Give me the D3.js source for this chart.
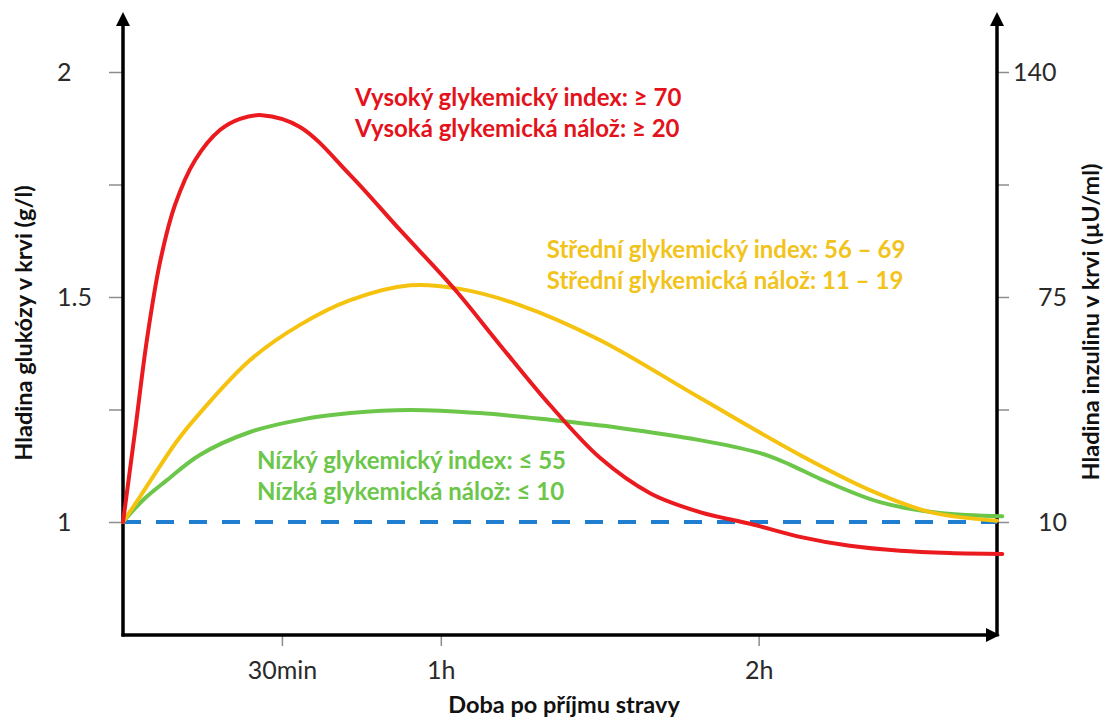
<!DOCTYPE html>
<html>
<head>
<meta charset="utf-8">
<script src="https://cdn.jsdelivr.net/npm/d3@7"></script>
<style>
  body { margin: 0; background: #fff; }
  text { font-family: Lato, "Open Sans", sans-serif; }
</style>
</head>
<body>
<div id="chart"></div>
<script>
// time after meal (minutes) and blood glucose (g/l)
const redTime   = [0, 2.3, 4.5, 7.0, 9.8, 13.6, 18.3, 22.1, 26.2, 33.4, 42.9, 52.3, 62.7, 71.2, 80.6, 90.1, 99.5, 108.9, 118.4, 127.8, 137.2, 146.7, 156.1, 166];
const redValue  = [1.0, 1.204, 1.404, 1.578, 1.704, 1.804, 1.871, 1.896, 1.904, 1.878, 1.771, 1.649, 1.516, 1.393, 1.26, 1.142, 1.064, 1.022, 0.996, 0.967, 0.947, 0.936, 0.931, 0.929];

const yellowTime  = [0, 3.2, 10.2, 14.5, 24.0, 33.4, 42.9, 54.2, 63.6, 74.9, 90.1, 108.9, 127.8, 141.0, 152.4, 165];
const yellowValue = [1.0, 1.056, 1.18, 1.242, 1.36, 1.438, 1.493, 1.526, 1.518, 1.482, 1.404, 1.276, 1.149, 1.071, 1.022, 1.003];

const greenTime  = [0, 3.8, 8.3, 14.5, 24.0, 33.4, 42.9, 54.2, 67.4, 80.6, 93.8, 108.9, 120.3, 126.0, 131.6, 142.9, 154.2, 166];
const greenValue = [1.0, 1.049, 1.093, 1.149, 1.2, 1.227, 1.242, 1.249, 1.242, 1.227, 1.209, 1.182, 1.153, 1.127, 1.096, 1.044, 1.02, 1.013];

const baseline = [[0, 1], [165, 1]];

// ticks
const xTicks = [30, 60, 120];
const xTickLabels = ["30min", "1h", "2h"];
const leftTicks = [1, 1.25, 1.5, 1.75, 2];
const leftLabels = ["1", "", "1.5", "", "2"];
const rightTicks = [10, 42.5, 75, 107.5, 140];
const rightLabels = ["10", "", "75", "", "140"];

const notes = [
  { lines: ["Vysoký glykemický index: ≥ 70", "Vysoká glykemická nálož: ≥ 20"], color: "#e3121b", t: 43.8, v: 1.924 },
  { lines: ["Střední glykemický index: 56 – 69", "Střední glykemická nálož: 11 – 19"], color: "#f2c31a", t: 80, v: 1.587 },
  { lines: ["Nízký glykemický index: ≤ 55", "Nízká glykemická nálož: ≤ 10"], color: "#6cc64a", t: 25.3, v: 1.118 }
];

const width = 1120, height = 720;
const svg = d3.select("#chart").append("svg")
  .attr("width", width)
  .attr("height", height);

const x = d3.scaleLinear().domain([0, 165]).range([123, 997]);
const yL = d3.scaleLinear().domain([1, 2]).range([522, 72]);
const yR = d3.scaleLinear().domain([10, 140]).range([522, 72]);

const axisTop = 12, axisBottom = 635;

// left axis ticks
const gL = svg.append("g").attr("transform", `translate(${x(0)},0)`)
  .call(d3.axisLeft(yL).tickValues(leftTicks).tickSize(14).tickFormat((d, i) => leftLabels[i]));
gL.select(".domain").remove();
gL.selectAll(".tick line").attr("stroke", "#8c8c8c").attr("stroke-width", 1.5);
gL.selectAll(".tick text").attr("x", -66).attr("text-anchor", "start")
  .attr("font-size", 25).attr("fill", "#2a2a2a").attr("font-family", "Lato, sans-serif");

// right axis ticks
const gR = svg.append("g").attr("transform", `translate(${x(165)},0)`)
  .call(d3.axisRight(yR).tickValues(rightTicks).tickSize(12).tickFormat((d, i) => rightLabels[i]));
gR.select(".domain").remove();
gR.selectAll(".tick line").attr("stroke", "#8c8c8c").attr("stroke-width", 1.5);
gR.selectAll(".tick text").attr("x", d => d === 140 ? 16 : 41).attr("text-anchor", "start")
  .attr("font-size", 25).attr("fill", "#2a2a2a").attr("font-family", "Lato, sans-serif");

// x ticks
const gX = svg.append("g").attr("transform", `translate(0,${axisBottom})`)
  .call(d3.axisBottom(x).tickValues(xTicks).tickSize(11).tickFormat((d, i) => xTickLabels[i]));
gX.select(".domain").remove();
gX.selectAll(".tick line").attr("stroke", "#8c8c8c").attr("stroke-width", 1.5);
gX.selectAll(".tick text").attr("y", 44).attr("dy", 0)
  .attr("font-size", 25).attr("fill", "#2a2a2a").attr("font-family", "Lato, sans-serif");

// axis lines with arrows
const axes = svg.append("g").attr("stroke", "#000").attr("stroke-width", 3.5).attr("fill", "none");
axes.append("line").attr("x1", x(0)).attr("x2", x(0)).attr("y1", axisBottom + 1.5).attr("y2", axisTop + 8);
axes.append("line").attr("x1", x(165)).attr("x2", x(165)).attr("y1", axisBottom + 1.5).attr("y2", axisTop + 8);
axes.append("line").attr("x1", x(0) - 1.5).attr("x2", x(165) - 6).attr("y1", axisBottom).attr("y2", axisBottom);

const arrows = svg.append("g").attr("fill", "#000");
[x(0), x(165)].forEach(px => {
  arrows.append("path").attr("d", `M${px},${axisTop} L${px - 7},${axisTop + 14} L${px + 7},${axisTop + 14} Z`);
});
arrows.append("path").attr("d", `M${x(165) + 3},${axisBottom} L${x(165) - 11},${axisBottom - 7} L${x(165) - 11},${axisBottom + 7} Z`);

// curves
const line = d3.line().x(d => x(d[0])).y(d => yL(d[1])).curve(d3.curveCatmullRom.alpha(0.5));

svg.append("path").datum(baseline)
  .attr("d", line).attr("fill", "none")
  .attr("stroke", "#1f7ed0").attr("stroke-width", 4).attr("stroke-dasharray", "18,15");

const series = [
  { t: greenTime, v: greenValue, color: "#6cc64a" },
  { t: yellowTime, v: yellowValue, color: "#f5c20f" },
  { t: redTime, v: redValue, color: "#ea1a1f" }
];
series.forEach(s => {
  svg.append("path").datum(s.t.map((t, i) => [t, s.v[i]]))
    .attr("d", line).attr("fill", "none")
    .attr("stroke", s.color).attr("stroke-width", 4).attr("stroke-linecap", "round");
});

// annotations
notes.forEach(n => {
  const txt = svg.append("text").attr("x", x(n.t)).attr("y", yL(n.v))
    .attr("font-size", 24).attr("font-weight", 700).attr("fill", n.color);
  n.lines.forEach((l, i) => {
    txt.append("tspan").attr("x", x(n.t)).attr("dy", i === 0 ? 0 : 31).text(l);
  });
});

// axis titles
svg.append("text").attr("x", 564).attr("y", 713).attr("text-anchor", "middle")
  .attr("font-size", 23.5).attr("font-weight", 700).attr("fill", "#111")
  .text("Doba po příjmu stravy");

svg.append("text").attr("transform", "translate(32,323) rotate(-90)").attr("text-anchor", "middle")
  .attr("font-size", 23.5).attr("font-weight", 700).attr("fill", "#111")
  .text("Hladina glukózy v krvi (g/l)");

svg.append("text").attr("transform", "translate(1099,322) rotate(-90)").attr("text-anchor", "middle")
  .attr("font-size", 23.5).attr("font-weight", 700).attr("fill", "#111")
  .text("Hladina inzulinu v krvi (µU/ml)");
</script>
</body>
</html>
